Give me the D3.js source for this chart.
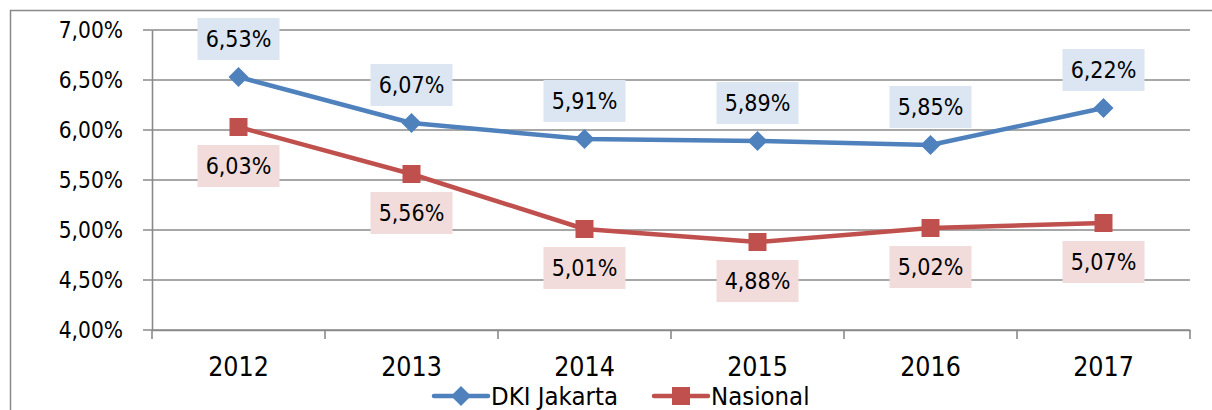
<!DOCTYPE html>
<html><head><meta charset="utf-8">
<script src="https://cdn.jsdelivr.net/npm/d3@7"></script>
<style>body{margin:0;background:#fff}svg{display:block}text{font-family:"DejaVu Sans Condensed","DejaVu Sans",sans-serif;fill:#000}</style>
</head><body>
<svg id="c" width="1212" height="410"></svg>
<script>
const categories = ["2012","2013","2014","2015","2016","2017"];
const dkiValues = [6.53, 6.07, 5.91, 5.89, 5.85, 6.22];
const nasionalValues = [6.03, 5.56, 5.01, 4.88, 5.02, 5.07];
const yTicks = [4.0, 4.5, 5.0, 5.5, 6.0, 6.5, 7.0];
const seriesNames = ["DKI Jakarta", "Nasional"];

(function () {
const svg = d3.select("#c");
const fmt = v => v.toFixed(2).replace(".", ",") + "%";
const pL = 152, pR = 1190, pT = 30, pB = 330;
const x = d3.scaleBand().domain(categories).range([pL, pR]);
const y = d3.scaleLinear().domain([4, 7]).range([pB, pT]);
const cx = c => x(c) + x.bandwidth() / 2;

// outer frame
svg.append("path").attr("d", "M10.5,420 V10.5 H1230").attr("fill", "none").attr("stroke", "#898989").attr("stroke-width", 1.5);

// gridlines
svg.append("g").selectAll("line").data(yTicks).join("line")
  .attr("x1", pL - 9).attr("x2", pR).attr("y1", d => y(d)).attr("y2", d => y(d))
  .attr("stroke", "#8a8a8a").attr("stroke-width", 1.6);

// y axis
const yAxis = svg.append("g").attr("transform", `translate(${pL},0)`)
  .call(d3.axisLeft(y).tickValues(yTicks).tickFormat(fmt).tickSize(0).tickPadding(29));
yAxis.select(".domain").attr("stroke", "#8a8a8a").attr("stroke-width", 1.6);
yAxis.selectAll("text").style("font-size", "22.5px").attr("dy", "0.34em");

// x axis
const xAxis = svg.append("g").attr("transform", `translate(0,${pB})`)
  .call(d3.axisBottom(x).tickSize(0).tickPadding(27));
xAxis.select(".domain").attr("stroke", "#8a8a8a").attr("stroke-width", 1.6);
xAxis.selectAll("text").style("font-size", "26.5px").attr("dy", "0.72em");
const bounds = categories.map(c => x(c)).concat([pR]);
svg.append("g").selectAll("line").data(bounds).join("line")
  .attr("x1", d => d).attr("x2", d => d).attr("y1", pB).attr("y2", pB + 9)
  .attr("stroke", "#8a8a8a").attr("stroke-width", 1.6);

const blue = "#4f81bd", red = "#c0504d";
const line = d3.line().x((d, i) => cx(categories[i])).y(d => y(d));

function diamond(g, px, py, s) {
  g.append("path").attr("d", `M${px},${py - s} L${px + s},${py} L${px},${py + s} L${px - s},${py} Z`).attr("fill", blue);
}
function square(g, px, py, s) {
  g.append("rect").attr("x", px - s).attr("y", py - s).attr("width", 2 * s).attr("height", 2 * s).attr("fill", red);
}

svg.append("path").datum(dkiValues).attr("d", line).attr("fill", "none").attr("stroke", blue).attr("stroke-width", 4.5).attr("stroke-linejoin", "round");
svg.append("path").datum(nasionalValues).attr("d", line).attr("fill", "none").attr("stroke", red).attr("stroke-width", 4.5).attr("stroke-linejoin", "round");

const mk = svg.append("g");
dkiValues.forEach((v, i) => diamond(mk, cx(categories[i]), y(v), 10));
nasionalValues.forEach((v, i) => square(mk, cx(categories[i]), y(v), 9));

// labels
function label(px, py, txt, bg) {
  const g = svg.append("g");
  g.append("rect").attr("x", px - 41).attr("y", py - 21).attr("width", 82).attr("height", 42).attr("fill", bg);
  g.append("text").attr("x", px).attr("y", py).attr("text-anchor", "middle").attr("dy", "0.36em").style("font-size", "23px").text(txt);
}
dkiValues.forEach((v, i) => label(cx(categories[i]), y(v) - 38, fmt(v), "#dce6f2"));
nasionalValues.forEach((v, i) => label(cx(categories[i]), y(v) + 39, fmt(v), "#f2dcdb"));

// legend
const lg = svg.append("g");
const ly = 396;
lg.append("line").attr("x1", 434).attr("x2", 488).attr("y1", ly).attr("y2", ly).attr("stroke", blue).attr("stroke-width", 4.5).attr("stroke-linecap", "round");
diamond(lg, 461, ly, 10);
lg.append("text").attr("x", 491).attr("y", ly).attr("dy", "0.36em").style("font-size", "25.5px").text(seriesNames[0]);
lg.append("line").attr("x1", 654).attr("x2", 708).attr("y1", ly).attr("y2", ly).attr("stroke", red).attr("stroke-width", 4.5).attr("stroke-linecap", "round");
square(lg, 681, ly, 9);
lg.append("text").attr("x", 711).attr("y", ly).attr("dy", "0.36em").style("font-size", "25.5px").text(seriesNames[1]);
})();
</script>
</body></html>
